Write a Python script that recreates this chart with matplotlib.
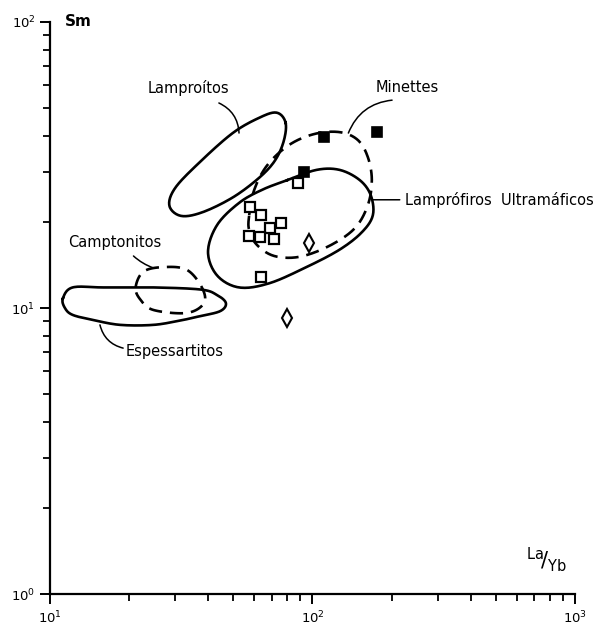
import numpy as np
import matplotlib
matplotlib.use("Agg")
import matplotlib.pyplot as plt
from matplotlib.ticker import LogLocator, LogFormatterMathtext, NullFormatter

# ---- data: La/Yb (x) and Sm (y) ----
filled_x = [111, 176, 93]
filled_y = [39.6, 41.2, 29.9]

open_x = [88.4, 57.8, 63.8, 76.1, 69.0, 57.4, 63.2, 71.5, 63.8]
open_y = [27.4, 22.5, 21.1, 19.8, 19.0, 17.9, 17.7, 17.4, 12.8]

diam_x = [97.4, 80.2]
diam_y = [16.9, 9.2]

# field outlines (control points, La/Yb, Sm)
lamproitos_x = [79.0, 77.5, 71.5, 62.0, 49.5, 38.0, 31.5, 28.5, 30.0, 37.0, 49.5, 62.5, 73.0]
lamproitos_y = [44.4, 38.0, 32.5, 28.3, 24.3, 21.6, 21.0, 22.8, 26.3, 32.2, 40.8, 46.2, 48.2]

minettes_x = [57.4, 60.0, 67.3, 81.6, 101.8, 126.9, 148.7, 162.5, 168.3, 162.5, 144.9, 116.1, 89.2, 71.5, 61.5, 57.4]
minettes_y = [21.1, 25.9, 31.6, 37.2, 40.6, 41.2, 38.7, 33.7, 28.0, 22.9, 19.0, 16.5, 15.1, 15.2, 16.6, 18.7]

ultra_x = [80.2, 103.6, 126.9, 151.4, 166.7, 169.8, 154.2, 126.9, 94.8, 68.4, 52.5, 43.3, 40.0, 43.3, 52.5, 64.3]
ultra_y = [28.0, 30.4, 30.4, 28.0, 24.8, 21.1, 18.4, 16.0, 13.9, 12.2, 11.8, 13.0, 15.7, 19.5, 23.3, 25.9]

espess_x = [11.2, 12.2, 16.0, 24.8, 37.6, 43.3, 46.8, 44.5, 37.0, 31.5, 24.8, 18.5, 14.6, 12.2, 11.4]
espess_y = [10.8, 11.8, 11.8, 11.8, 11.6, 11.1, 10.4, 9.75, 9.35, 9.05, 8.73, 8.73, 9.08, 9.46, 10.0]

campto_x = [21.2, 22.7, 27.1, 33.2, 37.9, 38.6, 33.2, 24.8, 22.1]
campto_y = [11.8, 13.4, 13.9, 13.6, 11.8, 10.4, 9.61, 9.84, 10.7]

labels = ["Lamproítos", "Minettes", "Lamprófiros  Ultramáficos", "Camptonitos", "Espessartitos"]


def smooth_closed(xs, ys, n=14):
    P = np.column_stack([np.log10(xs), np.log10(ys)])
    N = len(P)
    out = []
    for i in range(N):
        p0, p1, p2, p3 = P[(i - 1) % N], P[i], P[(i + 1) % N], P[(i + 2) % N]
        for t in np.linspace(0, 1, n, endpoint=False):
            t2, t3 = t * t, t * t * t
            pt = 0.5 * ((2 * p1) + (-p0 + p2) * t + (2 * p0 - 5 * p1 + 4 * p2 - p3) * t2
                        + (-p0 + 3 * p1 - 3 * p2 + p3) * t3)
            out.append(pt)
    out.append(out[0])
    out = np.array(out)
    return 10 ** out[:, 0], 10 ** out[:, 1]


fig = plt.figure(figsize=(6.08, 6.25), dpi=100)
ax = fig.add_axes([0.0822, 0.0496, 0.8635, 0.9152])
ax.set_xscale("log")
ax.set_yscale("log")
ax.set_xlim(10, 1000)
ax.set_ylim(1, 100)

for s in ["top", "right"]:
    ax.spines[s].set_visible(False)
for s in ["left", "bottom"]:
    ax.spines[s].set_linewidth(1.6)

ax.xaxis.set_major_locator(LogLocator(base=10, numticks=5))
ax.yaxis.set_major_locator(LogLocator(base=10, numticks=5))
ax.xaxis.set_minor_locator(LogLocator(base=10, subs=np.arange(2, 10), numticks=20))
ax.yaxis.set_minor_locator(LogLocator(base=10, subs=np.arange(2, 10), numticks=20))
ax.xaxis.set_major_formatter(LogFormatterMathtext())
ax.yaxis.set_major_formatter(LogFormatterMathtext())
ax.xaxis.set_minor_formatter(NullFormatter())
ax.yaxis.set_minor_formatter(NullFormatter())
ax.tick_params(which="major", length=7, width=1.4, labelsize=9.5, direction="out")
ax.tick_params(which="minor", length=5, width=1.3, direction="out")
ax.tick_params(axis="x", pad=4)

lw = 1.9
# outlines
for xs, ys in [(lamproitos_x, lamproitos_y), (ultra_x, ultra_y), (espess_x, espess_y)]:
    sx, sy = smooth_closed(xs, ys)
    ax.plot(sx, sy, color="black", lw=lw, ls="-")
for xs, ys in [(minettes_x, minettes_y), (campto_x, campto_y)]:
    sx, sy = smooth_closed(xs, ys)
    ax.plot(sx, sy, color="black", lw=lw, ls=(0, (5, 3)))

# points
ax.plot(open_x, open_y, ls="none", marker="s", ms=7, mfc="white", mec="black", mew=1.6, zorder=5)
ax.plot(filled_x, filled_y, ls="none", marker="s", ms=7, mfc="black", mec="black", mew=1.2, zorder=5)
ax.plot(diam_x, diam_y, ls="none", marker="d", ms=9, mfc="white", mec="black", mew=1.5, zorder=5)

# labels with leader lines
fs = 10.5
lead = dict(arrowstyle="-", color="black", lw=1.1, shrinkA=0, shrinkB=0)
ax.text(33.8, 58.8, labels[0], ha="center", va="center", fontsize=fs)
ax.annotate("", xy=(52.5, 40.9), xytext=(44.0, 52.1),
            arrowprops=dict(lead, connectionstyle="arc3,rad=-0.3"))
ax.text(229, 58.8, labels[1], ha="center", va="center", fontsize=fs)
ax.annotate("", xy=(137, 40.9), xytext=(201, 53.3),
            arrowprops=dict(lead, connectionstyle="arc3,rad=0.3"))
ax.text(225, 23.9, labels[2], ha="left", va="center", fontsize=fs)
ax.annotate("", xy=(168.3, 23.9), xytext=(215, 23.9), arrowprops=dict(lead))
ax.text(17.7, 17.0, labels[3], ha="center", va="center", fontsize=fs)
ax.annotate("", xy=(24.8, 13.8), xytext=(20.8, 15.2),
            arrowprops=dict(lead, connectionstyle="arc3,rad=0.1"))
ax.text(19.4, 7.02, labels[4], ha="left", va="center", fontsize=fs)
ax.annotate("", xy=(19.0, 7.24), xytext=(15.5, 8.73),
            arrowprops=dict(lead, connectionstyle="arc3,rad=0.3"))

# axis titles
ax.text(0.028, 1.0, "Sm", transform=ax.transAxes, ha="left", va="center",
        fontsize=11, fontweight="bold")
ax.text(0.985, 0.035, r"$^{\mathsf{La}}\!/_{\mathsf{Yb}}$", transform=ax.transAxes,
        ha="right", va="bottom", fontsize=15)

fig.savefig("out.png", dpi=100)
